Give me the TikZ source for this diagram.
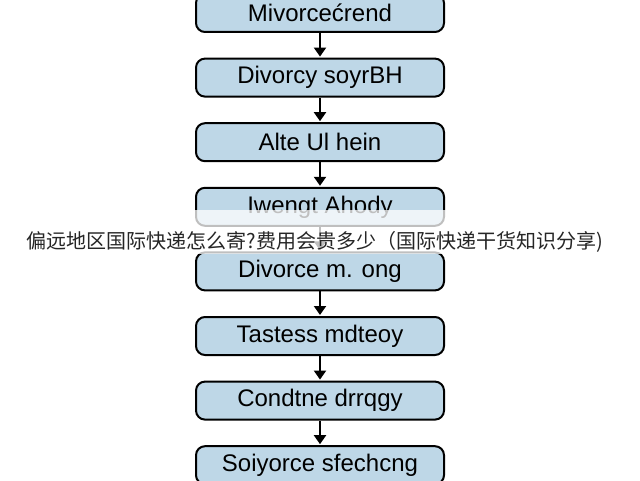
\documentclass[tikz,border=0pt]{standalone}
\usepackage{fontspec}
\setmainfont{Liberation Sans}
\newfontfamily\cjk{Noto Sans CJK SC}
\usetikzlibrary{positioning,arrows.meta}
\definecolor{boxblue}{RGB}{190,215,231}
\tikzset{
    stepbox/.style={draw=black, line width=2pt, fill=boxblue, rounded corners=9pt,
        minimum width=248pt, minimum height=38pt, inner sep=0pt,
        font=\fontsize{24}{27}\selectfont},
    flow/.style={-{Triangle[length=9pt,width=12pt]}, line width=2pt, shorten >=1pt}
}
\begin{document}
\begin{tikzpicture}[x=1pt, y=1pt, node distance=24.6pt]
    \useasboundingbox (0,0) rectangle (640,480);
    \fill[white] (0,0) rectangle (640,480);
    \node[stepbox] (s1) at (320,467) {Mivorcećrend};
    \node[stepbox, below=of s1] (s2) {Divorcy soyrBH};
    \node[stepbox, below=of s2] (s3) {Alte Ul hein};
    \node[stepbox, below=of s3] (s4) {Iwengt Ahody};
    \node[stepbox, below=of s4] (s5) {Divorce m. ong};
    \node[stepbox, below=of s5] (s6) {Tastess mdteoy};
    \node[stepbox, below=of s6] (s7) {Condtne drrqgy};
    \node[stepbox, below=of s7] (s8) {Soiyorce sfechcng};
    \draw[flow] (s1) -- (s2);
    \draw[flow] (s2) -- (s3);
    \draw[flow] (s3) -- (s4);
    \draw[flow] (s4) -- (s5);
    \draw[flow] (s5) -- (s6);
    \draw[flow] (s6) -- (s7);
    \draw[flow] (s7) -- (s8);
    % banner over the middle
    \fill[white, opacity=0.75] (0,226) rectangle (640,270);
    \node[font=\cjk\fontsize{20}{24}\selectfont, text=black!85] (title) at (315,238)
        {偏远地区国际快递怎么寄?费用会贵多少（国际快递干货知识分享)};
\end{tikzpicture}
\end{document}
